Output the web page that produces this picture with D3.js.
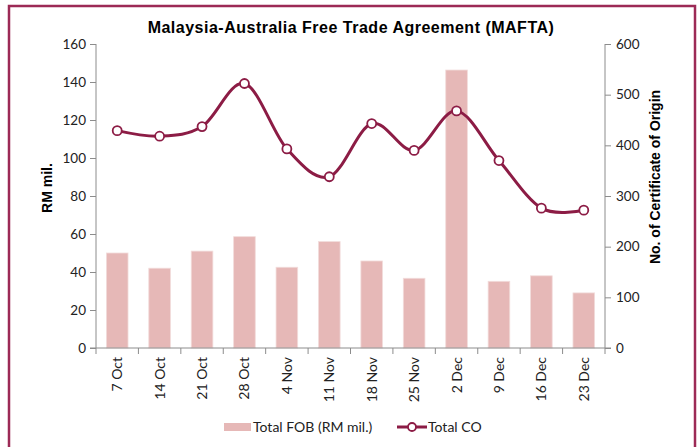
<!DOCTYPE html>
<html>
<head>
<meta charset="utf-8">
<script src="https://cdn.jsdelivr.net/npm/d3@7"></script>
<style>
  body { margin: 0; background: #fff; }
  svg { display: block; }
  .tick text { font-family: Lato, "Liberation Sans", sans-serif; fill: #222; }
</style>
</head>
<body>
<div id="chart"></div>
<script>
var weeks = ["7 Oct", "14 Oct", "21 Oct", "28 Oct", "4 Nov", "11 Nov", "18 Nov", "25 Nov", "2 Dec", "9 Dec", "16 Dec", "23 Dec"];
var totalFob = [50, 42, 51, 58.6, 42.5, 56, 45.8, 36.7, 146.3, 35.1, 38, 29];
var totalCo = [429, 418, 437, 522, 393, 338, 443, 390, 468, 370, 276, 272];
var leftTicks = [0, 20, 40, 60, 80, 100, 120, 140, 160];
var rightTicks = [0, 100, 200, 300, 400, 500, 600];

var W = 697, H = 447;
var margin = { top: 44, right: 92, bottom: 99, left: 96 },
    width = W - margin.left - margin.right,
    height = H - margin.top - margin.bottom;

var maroon = "#8c1c45";
var border = "#9c2a56";
var axisCol = "#8c8c8c";

var root = d3.select("#chart").append("svg")
    .attr("width", W)
    .attr("height", H);

root.append("rect")
    .attr("x", 9).attr("y", 6)
    .attr("width", 686).attr("height", H + 10)
    .attr("fill", "none")
    .attr("stroke", border)
    .attr("stroke-width", 2.5);

root.append("text")
    .attr("x", 351).attr("y", 33)
    .attr("text-anchor", "middle")
    .style("font-family", "'Liberation Sans', Arial, sans-serif")
    .style("font-weight", "bold")
    .style("font-size", "16px")
    .style("letter-spacing", "0.5px")
    .text("Malaysia-Australia Free Trade Agreement (MAFTA)");

var svg = root.append("g")
    .attr("transform", "translate(" + margin.left + "," + margin.top + ")");

var x = d3.scaleBand()
    .domain(weeks)
    .range([0, width])
    .paddingInner(0.49)
    .paddingOuter(0.245);

var xTicks = d3.scaleLinear().domain([0, weeks.length]).range([0, width]);

var yL = d3.scaleLinear().domain([0, 160]).range([height, 0]);
var yR = d3.scaleLinear().domain([0, 600]).range([height, 0]);

// bars
svg.selectAll("rect.bar")
  .data(totalFob)
  .join("rect")
    .attr("class", "bar")
    .attr("x", function(d, i) { return x(weeks[i]); })
    .attr("y", function(d) { return yL(d); })
    .attr("width", x.bandwidth())
    .attr("height", function(d) { return height - yL(d); })
    .attr("fill", "#e6b8b7")
    .attr("stroke", "#f2dcdb")
    .attr("stroke-width", 0.8);

// left and right axes
var axL = svg.append("g")
    .call(d3.axisLeft(yL).tickValues(leftTicks).tickSize(6).tickPadding(4));
var axR = svg.append("g")
    .attr("transform", "translate(" + width + ",0)")
    .call(d3.axisRight(yR).tickValues(rightTicks).tickSize(6).tickPadding(5));
[axL, axR].forEach(function(a) {
  a.select(".domain").attr("stroke", axisCol).attr("d", "M0,0V" + height);
  a.selectAll(".tick line").attr("stroke", axisCol);
  a.selectAll(".tick text").style("font-size", "13.5px");
});

// bottom axis with ticks at band edges
var axB = svg.append("g")
    .attr("transform", "translate(0," + height + ")");
axB.append("line")
    .attr("x1", -6).attr("x2", width + 6)
    .attr("stroke", axisCol);
axB.selectAll("line.tk")
  .data(d3.range(weeks.length + 1))
  .join("line")
    .attr("class", "tk")
    .attr("x1", function(d) { return xTicks(d); })
    .attr("x2", function(d) { return xTicks(d); })
    .attr("y1", 0).attr("y2", 6)
    .attr("stroke", axisCol);
axB.selectAll("text")
  .data(weeks)
  .join("text")
    .attr("transform", function(d) {
      return "translate(" + (x(d) + x.bandwidth() / 2 + 5) + ",9) rotate(-90)";
    })
    .attr("text-anchor", "end")
    .style("font-family", "Lato, 'Liberation Sans', sans-serif")
    .style("font-size", "14px")
    .attr("fill", "#222")
    .text(function(d) { return d; });

// line
var line = d3.line()
    .x(function(d, i) { return x(weeks[i]) + x.bandwidth() / 2; })
    .y(function(d) { return yR(d); })
    .curve(d3.curveCardinal.tension(0));

svg.append("path")
    .datum(totalCo)
    .attr("d", line)
    .attr("fill", "none")
    .attr("stroke", maroon)
    .attr("stroke-width", 3);

svg.selectAll("circle.pt")
  .data(totalCo)
  .join("circle")
    .attr("class", "pt")
    .attr("cx", function(d, i) { return x(weeks[i]) + x.bandwidth() / 2; })
    .attr("cy", function(d) { return yR(d); })
    .attr("r", 4.5)
    .attr("fill", "#fff")
    .attr("stroke", maroon)
    .attr("stroke-width", 1.8);

// axis titles
root.append("text")
    .attr("transform", "translate(52,188) rotate(-90)")
    .attr("text-anchor", "middle")
    .style("font-family", "'Liberation Sans', Arial, sans-serif")
    .style("font-weight", "bold")
    .style("font-size", "14px")
    .text("RM mil.");
root.append("text")
    .attr("transform", "translate(660,177) rotate(-90)")
    .attr("text-anchor", "middle")
    .style("font-family", "'Liberation Sans', Arial, sans-serif")
    .style("font-weight", "bold")
    .style("font-size", "14px")
    .text("No. of Certificate of Origin");

// legend
var lg = root.append("g").style("font-family", "Lato, 'Liberation Sans', sans-serif").style("font-size", "14px");
lg.append("rect")
    .attr("x", 224).attr("y", 423)
    .attr("width", 27).attr("height", 8)
    .attr("fill", "#e6b8b7");
lg.append("text").attr("x", 253).attr("y", 432).attr("fill", "#222").text("Total FOB (RM mil.)");
lg.append("line")
    .attr("x1", 397).attr("x2", 427).attr("y1", 427).attr("y2", 427)
    .attr("stroke", maroon).attr("stroke-width", 3);
lg.append("circle")
    .attr("cx", 412).attr("cy", 427).attr("r", 4)
    .attr("fill", "#fff").attr("stroke", maroon).attr("stroke-width", 1.8);
lg.append("text").attr("x", 428).attr("y", 432).attr("fill", "#222").text("Total CO");
</script>
</body>
</html>
